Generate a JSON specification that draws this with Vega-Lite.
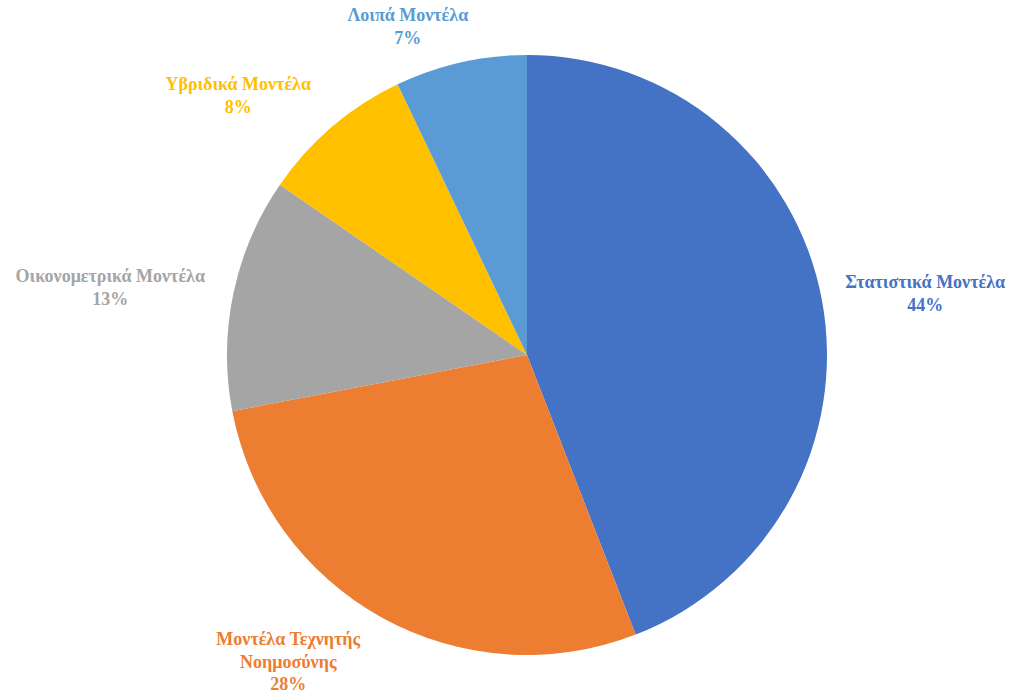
{
  "$schema": "https://vega.github.io/schema/vega-lite/v6.json",
  "width": 966,
  "height": 676,
  "padding": {"left": 44, "top": 17, "right": 0, "bottom": 0},
  "autosize": "none",
  "background": "white",
  "data": {
    "values": [
      {"category": "Στατιστικά Μοντέλα", "label": "Στατιστικά Μοντέλα\n44%", "value": 44.1},
      {"category": "Μοντέλα Τεχνητής Νοημοσύνης", "label": "Μοντέλα Τεχνητής\nΝοημοσύνης\n28%", "value": 27.9},
      {"category": "Οικονομετρικά Μοντέλα", "label": "Οικονομετρικά Μοντέλα\n13%", "value": 12.6},
      {"category": "Υβριδικά Μοντέλα", "label": "Υβριδικά Μοντέλα\n8%", "value": 8.3},
      {"category": "Λοιπά Μοντέλα", "label": "Λοιπά Μοντέλα\n7%", "value": 7.1}
    ]
  },
  "transform": [
    {"window": [{"op": "row_number", "as": "i"}]},
    {"stack": "value", "groupby": [], "sort": [{"field": "i", "order": "ascending"}], "as": ["v0", "v1"]},
    {"calculate": "(datum.v0 + datum.v1) / 2", "as": "mid"}
  ],
  "encoding": {
    "color": {
      "field": "category",
      "type": "nominal",
      "scale": {
        "domain": ["Στατιστικά Μοντέλα", "Μοντέλα Τεχνητής Νοημοσύνης", "Οικονομετρικά Μοντέλα", "Υβριδικά Μοντέλα", "Λοιπά Μοντέλα"],
        "range": ["#4472C4", "#ED7D31", "#A5A5A5", "#FFC000", "#5B9BD5"]
      },
      "legend": null
    }
  },
  "layer": [
    {
      "mark": {"type": "arc", "outerRadius": 300, "stroke": null},
      "encoding": {
        "theta": {"field": "v0", "type": "quantitative", "scale": {"domain": [0, 100]}},
        "theta2": {"field": "v1"}
      }
    },
    {
      "transform": [{"filter": "datum.i == 1"}],
      "mark": {"type": "text", "radius": 340, "dx": 64, "dy": -9, "font": "Liberation Serif", "fontSize": 18, "fontWeight": "bold", "lineBreak": "\n", "lineHeight": 22.5, "align": "center", "baseline": "middle"},
      "encoding": {"theta": {"field": "mid", "type": "quantitative"}, "text": {"field": "label", "type": "nominal"}}
    },
    {
      "transform": [{"filter": "datum.i == 2"}],
      "mark": {"type": "text", "radius": 340, "dx": -74, "dy": -12, "font": "Liberation Serif", "fontSize": 18, "fontWeight": "bold", "lineBreak": "\n", "lineHeight": 22.5, "align": "center", "baseline": "middle"},
      "encoding": {"theta": {"field": "mid", "type": "quantitative"}, "text": {"field": "label", "type": "nominal"}}
    },
    {
      "transform": [{"filter": "datum.i == 3"}],
      "mark": {"type": "text", "radius": 340, "dx": -84, "dy": -8, "font": "Liberation Serif", "fontSize": 18, "fontWeight": "bold", "lineBreak": "\n", "lineHeight": 22.5, "align": "center", "baseline": "middle"},
      "encoding": {"theta": {"field": "mid", "type": "quantitative"}, "text": {"field": "label", "type": "nominal"}}
    },
    {
      "transform": [{"filter": "datum.i == 4"}],
      "mark": {"type": "text", "radius": 340, "dx": -68, "dy": -11, "font": "Liberation Serif", "fontSize": 18, "fontWeight": "bold", "lineBreak": "\n", "lineHeight": 22.5, "align": "center", "baseline": "middle"},
      "encoding": {"theta": {"field": "mid", "type": "quantitative"}, "text": {"field": "label", "type": "nominal"}}
    },
    {
      "transform": [{"filter": "datum.i == 5"}],
      "mark": {"type": "text", "radius": 340, "dx": -44, "dy": -7, "font": "Liberation Serif", "fontSize": 18, "fontWeight": "bold", "lineBreak": "\n", "lineHeight": 22.5, "align": "center", "baseline": "middle"},
      "encoding": {"theta": {"field": "mid", "type": "quantitative"}, "text": {"field": "label", "type": "nominal"}}
    }
  ]
}
